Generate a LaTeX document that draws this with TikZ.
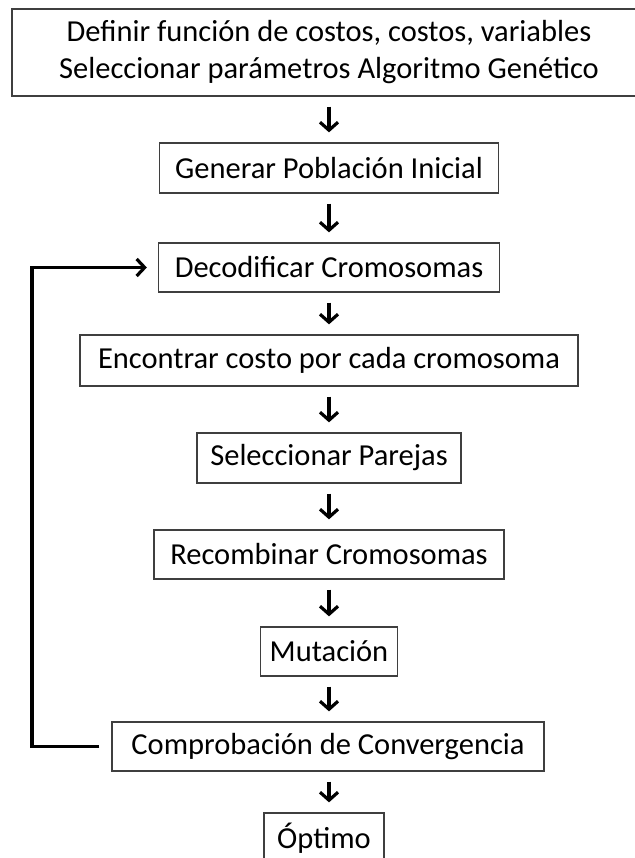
\documentclass[tikz,border=0pt]{standalone}
\usepackage{fontspec}
\setmainfont{Carlito}
\usetikzlibrary{arrows.meta}
\definecolor{boxgray}{HTML}{3F3F3F}
\begin{document}
\begin{tikzpicture}[x=1pt,y=-1pt,
  stepbox/.style={draw=boxgray, line width=1.3pt, inner sep=0pt, align=center,
    font=\fontsize{30.5}{37}\selectfont, text=black},
  flow/.style={draw=black, line width=3.2pt,
    -{Straight Barb[length=8pt,width=18pt]}},
  loopline/.style={draw=black, line width=3.2pt, line join=miter,
    -{Straight Barb[length=8pt,width=17pt]}}]
\useasboundingbox (0,0) rectangle (634,858);
\fill[white] (0,0) rectangle (634,858);
\node[stepbox, minimum width=634pt, minimum height=87pt] (b1) at (329,52.5)
  {Definir función de costos, costos, variables\\Seleccionar parámetros Algoritmo Genético};
\node[stepbox, minimum width=339pt, minimum height=50pt] (b2) at (329,168) {Generar Población Inicial};
\node[stepbox, minimum width=341pt, minimum height=49pt] (b3) at (329,267.5) {Decodificar Cromosomas};
\node[stepbox, minimum width=498pt, minimum height=51pt] (b4) at (329,360.5) {Encontrar costo por cada cromosoma};
\node[stepbox, minimum width=264pt, minimum height=50pt] (b5) at (329,458) {Seleccionar Parejas};
\node[stepbox, minimum width=350pt, minimum height=49pt] (b6) at (329,554.5) {Recombinar Cromosomas};
\node[stepbox, minimum width=137pt, minimum height=49pt] (b7) at (329,651.5) {Mutación};
\node[stepbox, minimum width=432pt, minimum height=49pt] (b8) at (328,746.5) {Comprobación de Convergencia};
\node[stepbox, minimum width=120pt, minimum height=50pt] (b9) at (324,838) {Óptimo};
\coordinate (axis) at (329,0);
\foreach \a/\b in {b1/b2,b2/b3,b3/b4,b4/b5,b5/b6,b6/b7,b7/b8,b8/b9}{
  \draw[flow] ([yshift=-10pt]\a.south -| axis) -- ([yshift=10pt]\b.north -| axis);
}
\coordinate (loopx) at (32,0);
\draw[loopline] ([xshift=-12pt]b8.west) -- (loopx |- b8.west) |- ([xshift=-11pt]b3.west);
\end{tikzpicture}
\end{document}
